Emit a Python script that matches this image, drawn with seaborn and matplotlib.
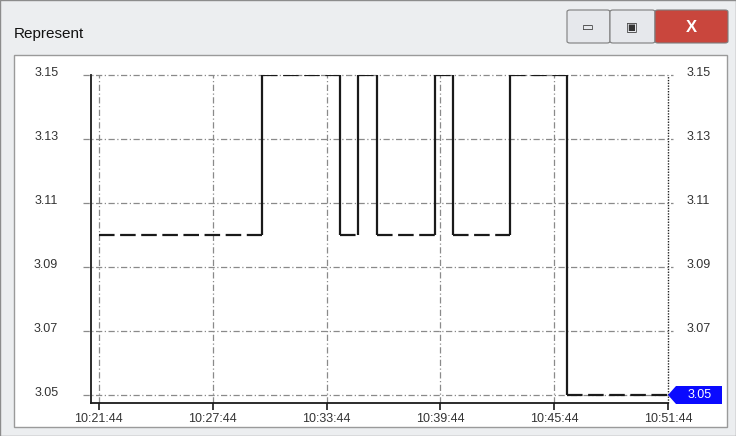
import pandas as pd
import numpy as np
import matplotlib
matplotlib.use("Agg")
import matplotlib.pyplot as plt
import matplotlib.dates as mdates
import matplotlib.transforms as mtransforms
from matplotlib.patches import Rectangle, Polygon, FancyBboxPatch
import seaborn as sns

# data: level changes of the signal
change_times = ["10:21:44", "10:30:20", "10:34:26", "10:35:23", "10:36:23",
                "10:39:27", "10:40:24", "10:43:24", "10:46:24"]
levels = [3.10, 3.15, 3.10, 3.15, 3.10, 3.15, 3.10, 3.15, 3.05]
end_time = "10:51:44"
x_ticks = ["10:21:44", "10:27:44", "10:33:44", "10:39:44", "10:45:44", "10:51:44"]
y_ticks = [3.05, 3.07, 3.09, 3.11, 3.13, 3.15]
x_start = "10:21:19"
y_min, y_max = 3.0475, 3.15
last_value = "3.05"

day = "2024-01-01 "
t = pd.to_datetime([day + s for s in change_times])
t_end = pd.to_datetime(day + end_time)

# one row per flat segment end point
rows = []
for i, (start, val) in enumerate(zip(t, levels)):
    stop = t[i + 1] if i + 1 < len(t) else t_end
    rows.append({"time": start, "value": val, "seg": i})
    rows.append({"time": stop, "value": val, "seg": i})
seg_df = pd.DataFrame(rows)

sns.set_style("white")
plt.rcParams['font.family'] = ['Liberation Sans', 'DejaVu Sans']

W, H = 736, 436
fig = plt.figure(figsize=(W / 100, H / 100), dpi=100, facecolor="#e9eaec")

# window chrome
fig.patches.append(Rectangle((0, 0), 1, 1, transform=fig.transFigure,
                             facecolor="#eceef0", edgecolor="#8c8c8c", lw=1.0, zorder=-3))
fig.patches.append(Rectangle((14 / W, 1 - 427 / H), (727 - 14) / W, (427 - 55) / H,
                             transform=fig.transFigure, facecolor="white",
                             edgecolor="#9a9a9a", lw=1.0, zorder=-2))
fig.text(14 / W, 1 - 34 / H, "Represent", fontsize=11, color="#111111",
         va="center", ha="left")
for x0, x1, fc in [(567, 610, "#e6e8ec"), (610, 655, "#e6e8ec"), (655, 728, "#c9463d")]:
    fig.patches.append(FancyBboxPatch((x0 / W, 1 - 43 / H), (x1 - x0) / W, 33 / H,
                                      boxstyle="round,pad=0,rounding_size=0.004",
                                      transform=fig.transFigure, facecolor=fc,
                                      edgecolor="#7d7d7d", lw=0.8, zorder=-1))
fig.text(588 / W, 1 - 28 / H, "▭", fontsize=9, color="#333333", ha="center", va="center")
fig.text(632 / W, 1 - 27 / H, "▣", fontsize=9, color="#333333", ha="center", va="center")
fig.text(691 / W, 1 - 27 / H, "X", fontsize=12, color="white", ha="center",
         va="center", weight="bold")

ax = fig.add_axes([91 / W, 1 - 403 / H, (668 - 91) / W, (403 - 75) / H])
ax.set_facecolor("none")

# flat segments (dashed) drawn by seaborn
sns.lineplot(data=seg_df, x="time", y="value", units="seg", estimator=None,
             color="#1a1a1a", lw=1.6, linestyle=(0, (7, 2.5)), ax=ax, zorder=3)
# vertical jumps between levels (solid)
ax.vlines(t[1:], np.minimum(levels[:-1], levels[1:]), np.maximum(levels[:-1], levels[1:]),
          color="#1a1a1a", lw=1.6, zorder=3)

xt = pd.to_datetime([day + s for s in x_ticks])
ax.set_xlim(pd.to_datetime(day + x_start), t_end)
ax.set_ylim(y_min, y_max)
ax.set_xticks(xt)
ax.xaxis.set_major_formatter(mdates.DateFormatter("%H:%M:%S"))
ax.set_yticks(y_ticks)
ax.set_yticklabels([f"{v:.2f}" for v in y_ticks])
ax.set_xlabel("")
ax.set_ylabel("")

# dash-dot grid, extended a bit past the plot on both sides
for v in y_ticks:
    ax.axhline(v, xmin=-8 / 577, xmax=1 + 5 / 577, color="#8a8a8a", lw=0.9,
               ls=(0, (5, 2, 1, 2)), clip_on=False, zorder=1)
for x in xt[:-1]:
    ax.axvline(x, color="#8a8a8a", lw=0.9, ls=(0, (5, 2, 1, 2)), zorder=1)
ax.axvline(xt[-1], color="#222222", lw=1.0, ls=(0, (1, 1)), zorder=2, clip_on=False)

for s in ["top", "right"]:
    ax.spines[s].set_visible(False)
for s in ["left", "bottom"]:
    ax.spines[s].set_color("#1a1a1a")
    ax.spines[s].set_linewidth(1.3)

ax.tick_params(axis="x", bottom=True, length=5, width=1.2, color="#1a1a1a",
               labelsize=9, labelcolor="#333333", pad=2)
ax.tick_params(axis="y", left=False, right=False, labelleft=True, labelright=True,
               labelsize=9, labelcolor="#333333", pad=10)

offset = mtransforms.ScaledTranslation(0, 4 / 100, fig.dpi_scale_trans)
left_shift = mtransforms.ScaledTranslation(-14 / 100, 0, fig.dpi_scale_trans)
for tick in ax.yaxis.get_major_ticks():
    tick.label1.set_transform(tick.label1.get_transform() + offset + left_shift)
    tick.label2.set_transform(tick.label2.get_transform() + offset)
ax.yaxis.get_major_ticks()[0].label2.set_visible(False)

# blue marker for the last value on the right
trans = mtransforms.blended_transform_factory(ax.transAxes, ax.transData)
hh = 9 / 64 * 0.02
tip = levels[-1]
ax.add_patch(Polygon([(1.0, tip), (1 + 8 / 577, tip + hh), (1 + 54 / 577, tip + hh),
                      (1 + 54 / 577, tip - hh), (1 + 8 / 577, tip - hh)],
                     closed=True, transform=trans, facecolor="#0a0aff",
                     edgecolor="none", clip_on=False, zorder=5))
ax.text(1 + 32 / 577, tip, last_value, transform=trans, color="white",
        fontsize=9, ha="center", va="center", zorder=6, clip_on=False)

fig.savefig("out.png", dpi=100, facecolor=fig.get_facecolor())
